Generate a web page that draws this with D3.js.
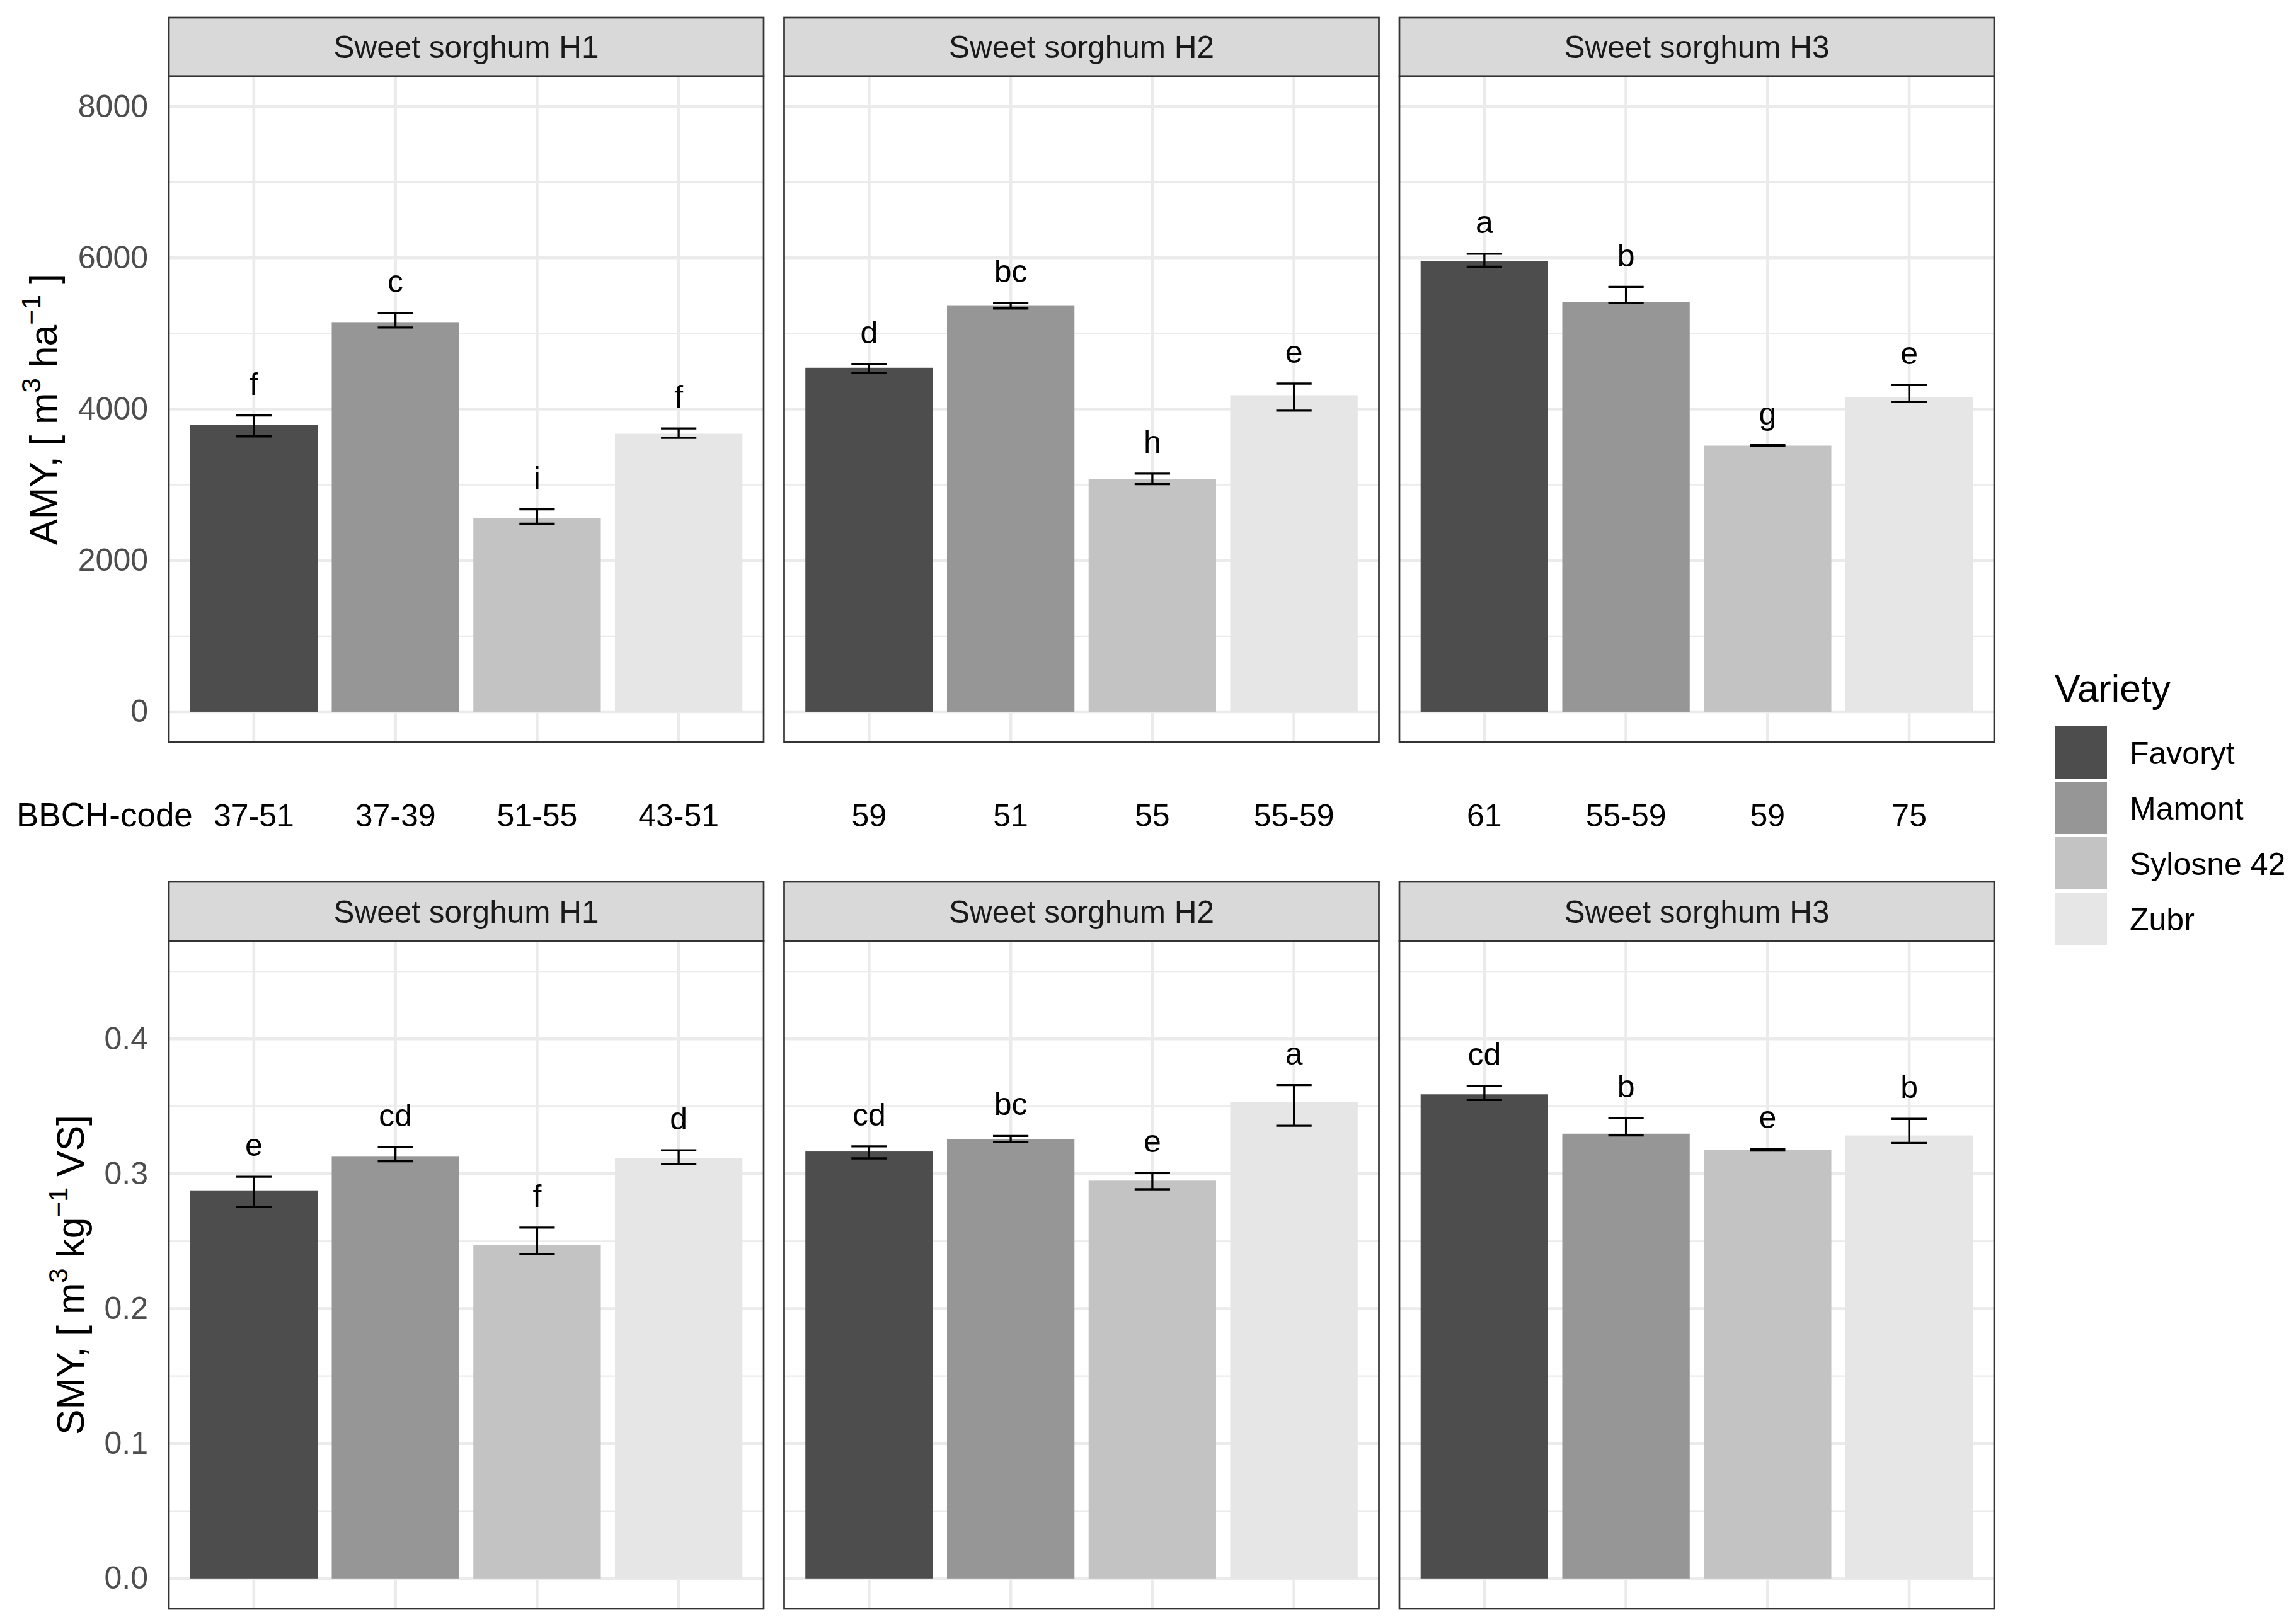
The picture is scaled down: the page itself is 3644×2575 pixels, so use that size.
<!DOCTYPE html>
<html>
<head>
<meta charset="utf-8">
<script src="https://cdn.jsdelivr.net/npm/d3@7"></script>
<style>
  body { margin: 0; background: #fff; }
  text { font-family: "Liberation Sans", Arial, sans-serif; }
</style>
</head>
<body>
<div id="chart"></div>
<script>
// data
var facets = ["Sweet sorghum H1", "Sweet sorghum H2", "Sweet sorghum H3"];
var varieties = ["Favoryt", "Mamont", "Sylosne 42", "Zubr"];
var fills = ["#4D4D4D", "#969696", "#C3C3C3", "#E6E6E6"];

var bbch = [
  ["37-51", "37-39", "51-55", "43-51"],
  ["59", "51", "55", "55-59"],
  ["61", "55-59", "59", "75"]
];

// AMY, m3 ha-1
var amyMean = [
  [3790, 5150, 2560, 3675],
  [4547, 5373, 3078, 4184],
  [5958, 5411, 3517, 4159]
];
var amyLow = [
  [3640, 5080, 2485, 3620],
  [4477, 5330, 3008, 3981],
  [5882, 5405, 3512, 4095]
];
var amyHigh = [
  [3915, 5270, 2675, 3745],
  [4598, 5405, 3148, 4337],
  [6054, 5615, 3525, 4318]
];
var amyLetters = [
  ["f", "c", "i", "f"],
  ["d", "bc", "h", "e"],
  ["a", "b", "g", "e"]
];

// SMY, m3 kg-1 VS
var smyMean = [
  [0.2877, 0.3131, 0.2473, 0.3114],
  [0.3165, 0.3258, 0.2949, 0.3530],
  [0.3589, 0.3297, 0.3178, 0.3284]
];
var smyLow = [
  [0.2754, 0.3093, 0.2406, 0.3072],
  [0.3114, 0.3237, 0.2885, 0.3356],
  [0.3547, 0.3284, 0.3172, 0.3229]
];
var smyHigh = [
  [0.2978, 0.3199, 0.2601, 0.3174],
  [0.3203, 0.3280, 0.3008, 0.3657],
  [0.3649, 0.3411, 0.3186, 0.3407]
];
var smyLetters = [
  ["e", "cd", "f", "d"],
  ["cd", "bc", "e", "a"],
  ["cd", "b", "e", "b"]
];

var amyTicks = [0, 2000, 4000, 6000, 8000];
var amyMinor = [1000, 3000, 5000, 7000];
var smyTicks = [0, 0.1, 0.2, 0.3, 0.4];
var smyMinor = [0.05, 0.15, 0.25, 0.35, 0.45];

var width = 3644, height = 2575;
var panelLeft = 268, panelW = 944, panelGap = 32.5;

var svg = d3.select("#chart").append("svg")
  .attr("width", width).attr("height", height)
  .attr("viewBox", [0, 0, width, height]);

var rows = [
  { stripTop: 28, top: 121, bottom: 1178, domain: [-400, 8400], mean: amyMean, low: amyLow, high: amyHigh,
    letters: amyLetters, ticks: amyTicks, minor: amyMinor, fmt: d3.format("d"),
    title: ["AMY, [ m", "3", " ha", "\u22121", " ]"], titleX: 90 },
  { stripTop: 1400, top: 1494, bottom: 2554, domain: [-0.0225, 0.4725], mean: smyMean, low: smyLow, high: smyHigh,
    letters: smyLetters, ticks: smyTicks, minor: smyMinor, fmt: d3.format(".1f"),
    title: ["SMY, [ m", "3", " kg", "\u22121", " VS]"], titleX: 133 }
];

rows.forEach(function(row) {
  var y = d3.scaleLinear().domain(row.domain).range([row.bottom, row.top]);

  facets.forEach(function(facet, fi) {
    var x0 = panelLeft + fi * (panelW + panelGap);
    var x = d3.scaleBand().domain(varieties).range([x0, x0 + panelW])
      .paddingInner(0.1).paddingOuter(0.15);
    var step = x.step();
    var g = svg.append("g");

    // strip
    g.append("rect")
      .attr("x", x0).attr("y", row.stripTop)
      .attr("width", panelW).attr("height", row.top - row.stripTop)
      .attr("fill", "#D9D9D9").attr("stroke", "#333333").attr("stroke-width", 2.7);
    g.append("text")
      .attr("x", x0 + panelW / 2).attr("y", (row.stripTop + row.top) / 2)
      .attr("dy", "0.36em").attr("text-anchor", "middle")
      .attr("font-size", 49.5).attr("fill", "#1A1A1A")
      .text(facet);

    // grid
    g.selectAll(".minor").data(row.minor).join("line")
      .attr("x1", x0).attr("x2", x0 + panelW)
      .attr("y1", d => y(d)).attr("y2", d => y(d))
      .attr("stroke", "#EBEBEB").attr("stroke-width", 2.3);
    g.selectAll(".major").data(row.ticks).join("line")
      .attr("x1", x0).attr("x2", x0 + panelW)
      .attr("y1", d => y(d)).attr("y2", d => y(d))
      .attr("stroke", "#EBEBEB").attr("stroke-width", 4.6);
    g.selectAll(".vgrid").data(varieties).join("line")
      .attr("x1", d => x(d) + x.bandwidth() / 2).attr("x2", d => x(d) + x.bandwidth() / 2)
      .attr("y1", row.top).attr("y2", row.bottom)
      .attr("stroke", "#EBEBEB").attr("stroke-width", 4.6);

    // bars
    g.selectAll(".bar").data(varieties).join("rect")
      .attr("x", d => x(d)).attr("width", x.bandwidth())
      .attr("y", (d, i) => y(row.mean[fi][i]))
      .attr("height", (d, i) => y(0) - y(row.mean[fi][i]))
      .attr("fill", (d, i) => fills[i]);

    // error bars
    var cap = step * 0.25 / 2;
    varieties.forEach(function(v, i) {
      var cx = x(v) + x.bandwidth() / 2;
      var lo = y(row.low[fi][i]), hi = y(row.high[fi][i]);
      var eb = g.append("g").attr("stroke", "#000").attr("stroke-width", 3.3);
      eb.append("line").attr("x1", cx).attr("x2", cx).attr("y1", lo).attr("y2", hi);
      eb.append("line").attr("x1", cx - cap).attr("x2", cx + cap).attr("y1", lo).attr("y2", lo);
      eb.append("line").attr("x1", cx - cap).attr("x2", cx + cap).attr("y1", hi).attr("y2", hi);
    });

    // letters
    g.selectAll(".lab").data(varieties).join("text")
      .attr("x", d => x(d) + x.bandwidth() / 2)
      .attr("y", (d, i) => y(row.high[fi][i]) - 33)
      .attr("text-anchor", "middle").attr("font-size", 50).attr("fill", "#000")
      .text((d, i) => row.letters[fi][i]);

    // border
    g.append("rect")
      .attr("x", x0).attr("y", row.top)
      .attr("width", panelW).attr("height", row.bottom - row.top)
      .attr("fill", "none").attr("stroke", "#333333").attr("stroke-width", 2.7);

    // BBCH codes under the top row
    if (row === rows[0]) {
      svg.selectAll(null).data(varieties).join("text")
        .attr("x", d => x(d) + x.bandwidth() / 2).attr("y", 1312)
        .attr("text-anchor", "middle").attr("font-size", 50).attr("fill", "#000")
        .text((d, i) => bbch[fi][i]);
    }
  });

  // y axis (labels only)
  var ax = svg.append("g").attr("transform", "translate(" + panelLeft + ",0)")
    .call(d3.axisLeft(y).tickValues(row.ticks).tickFormat(row.fmt).tickSize(0).tickPadding(33));
  ax.select(".domain").remove();
  ax.selectAll("text").attr("font-size", 50).attr("fill", "#4D4D4D")
    .attr("font-family", "'Liberation Sans', Arial, sans-serif");

  // y title
  var cy = (row.top + row.bottom) / 2;
  var t = svg.append("text")
    .attr("transform", "translate(" + row.titleX + "," + cy + ") rotate(-90)")
    .attr("text-anchor", "middle").attr("font-size", 60.6).attr("fill", "#000");
  t.append("tspan").text(row.title[0]);
  t.append("tspan").attr("font-size", 42).attr("dy", -26).text(row.title[1]);
  t.append("tspan").attr("dy", 26).text(row.title[2]);
  t.append("tspan").attr("font-size", 42).attr("dy", -26).text(row.title[3]);
  t.append("tspan").attr("dy", 26).text(row.title[4]);
});

svg.append("text").attr("x", 26).attr("y", 1312)
  .attr("font-size", 53).attr("fill", "#000").text("BBCH-code");

// legend
var leg = svg.append("g");
leg.append("text").attr("x", 3261).attr("y", 1114)
  .attr("font-size", 60.6).attr("fill", "#000").text("Variety");
leg.selectAll(".key").data(varieties).join("rect")
  .attr("x", 3262).attr("y", (d, i) => 1153 + i * 88)
  .attr("width", 82).attr("height", 83)
  .attr("fill", (d, i) => fills[i]);
leg.selectAll(".klab").data(varieties).join("text")
  .attr("x", 3380).attr("y", (d, i) => 1153 + i * 88 + 41.5)
  .attr("dy", "0.36em").attr("font-size", 50).attr("fill", "#000")
  .text(d => d);
</script>
</body>
</html>
